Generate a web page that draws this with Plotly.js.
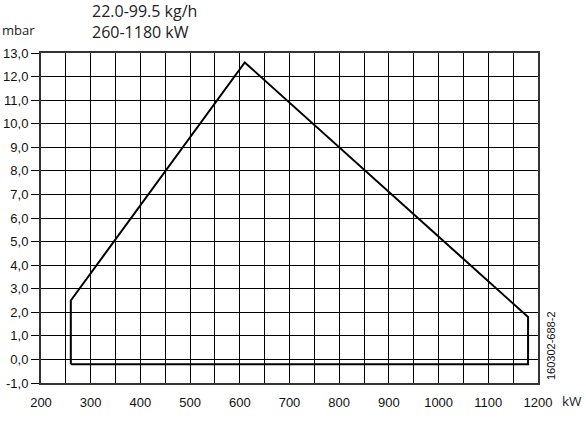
<!DOCTYPE html>
<html><head><meta charset="utf-8">
<script src="https://cdn.plot.ly/plotly-3.0.1.min.js"></script>
<style>html,body{margin:0;padding:0;background:#fff}#chart{width:586px;height:421px}</style>
</head><body><div id="chart"></div>
<script>
// Data (working field polygon)
var kw   = [260, 260, 610, 1180, 1180, 260];
var mbar = [-0.2, 2.5, 12.6, 1.8, -0.2, -0.2];

var xTickVals = [200,250,300,350,400,450,500,550,600,650,700,750,800,850,900,950,1000,1050,1100,1150,1200];
var xTickText = ["200","","300","","400","","500","","600","","700","","800","","900","","1000","","1100","","1200"];
var yTickVals = [-1,0,1,2,3,4,5,6,7,8,9,10,11,12,13];
var yTickText = ["-1,0","0,0","1,0","2,0","3,0","4,0","5,0","6,0","7,0","8,0","9,0","10,0","11,0","12,0","13,0"];

var titleLines = ["22.0-99.5 kg/h", "260-1180 kW"];
var yUnit = "mbar", xUnit = "kW", drawingId = "160302-688-2";

var tickFont = {family: "Liberation Sans, Arial, sans-serif", size: 13, color: "#111"};
var textFont = {family: "Open Sans, Noto Sans, sans-serif", size: 16, color: "#222"};

var trace = {x: kw, y: mbar, mode: "lines", line: {color: "#000", width: 2}, hoverinfo: "skip"};

var layout = {
  width: 586, height: 421,
  margin: {l: 41, r: 48, t: 53, b: 38},
  paper_bgcolor: "#fff", plot_bgcolor: "#fff",
  showlegend: false,
  xaxis: {
    range: [200, 1200], tickmode: "array", tickvals: xTickVals, ticktext: xTickText,
    showgrid: true, gridcolor: "#000", gridwidth: 1, zeroline: false,
    showline: true, linecolor: "#333", linewidth: 2, mirror: true,
    ticks: "", tickfont: tickFont, ticklabelstandoff: 6
  },
  yaxis: {
    range: [-1, 13], tickmode: "array", tickvals: yTickVals, ticktext: yTickText,
    showgrid: true, gridcolor: "#000", gridwidth: 1, zeroline: false,
    showline: true, linecolor: "#333", linewidth: 2, mirror: true,
    ticks: "outside", ticklen: 8, tickcolor: "#000", tickwidth: 1, tickfont: tickFont
  },
  annotations: [
    {text: titleLines.join("<br>"), align: "left", borderpad: 0, xref: "paper", yref: "paper", x: (91-41)/497, y: 1 + (53-22)/330, xanchor: "left", yanchor: "middle", showarrow: false, font: textFont},
    {text: yUnit, borderpad: 0, xref: "paper", yref: "paper", x: (1-41)/497, y: 1 + (53-30)/330, xanchor: "left", yanchor: "middle", showarrow: false, font: {family: "Open Sans, Noto Sans, sans-serif", size: 13, color: "#222"}},
    {text: xUnit, borderpad: 0, xref: "paper", yref: "paper", x: (561-41)/497, y: -(401-383)/330, xanchor: "left", yanchor: "middle", showarrow: false, font: {family: "Open Sans, Noto Sans, sans-serif", size: 13.5, color: "#223"}},
    {text: drawingId, borderpad: 0, xref: "paper", yref: "paper", x: (551-41)/497, y: (383-346)/330, xanchor: "center", yanchor: "middle", textangle: -90, showarrow: false, font: {family: "Liberation Sans, Arial, sans-serif", size: 11, color: "#111"}}
  ]
};

Plotly.newPlot("chart", [trace], layout, {displayModeBar: false, staticPlot: true});
</script></body></html>
